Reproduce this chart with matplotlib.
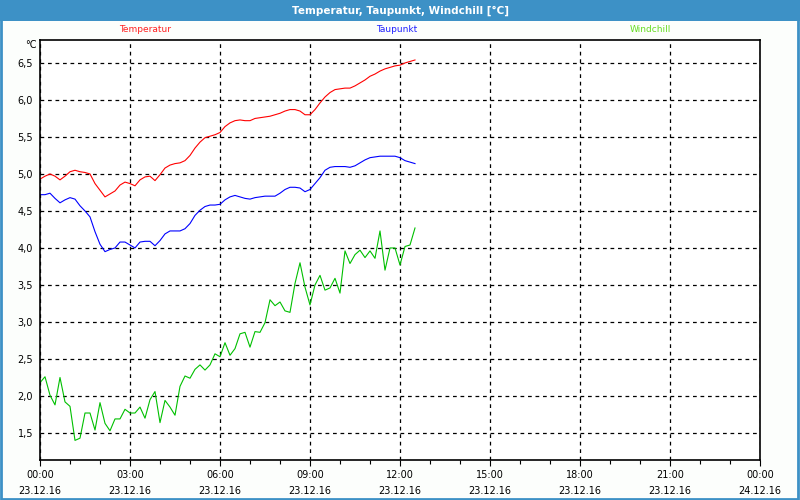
import numpy as np
import matplotlib
matplotlib.use('Agg')
import matplotlib.pyplot as plt
from matplotlib.patches import Rectangle
from matplotlib.ticker import FixedLocator, MultipleLocator

# Messwerte alle 10 Minuten ab 00:00 (Stunden)
hours = np.arange(76) / 6.0

temperatur = [4.93, 4.97, 5.00, 4.97, 4.92, 4.97, 5.03, 5.05, 5.03, 5.02,
              5.00, 4.87, 4.78, 4.69, 4.73, 4.77, 4.85, 4.89, 4.87, 4.84,
              4.92, 4.96, 4.97, 4.91, 4.99, 5.08, 5.12, 5.14, 5.15, 5.18,
              5.25, 5.35, 5.43, 5.49, 5.51, 5.53, 5.56, 5.64, 5.69, 5.72,
              5.73, 5.72, 5.72, 5.75, 5.76, 5.77, 5.78, 5.80, 5.82, 5.85,
              5.87, 5.87, 5.85, 5.80, 5.80, 5.87, 5.96, 6.04, 6.10, 6.14,
              6.15, 6.16, 6.16, 6.19, 6.23, 6.27, 6.32, 6.35, 6.39, 6.42,
              6.44, 6.46, 6.47, 6.50, 6.52, 6.54]

taupunkt = [4.72, 4.72, 4.74, 4.67, 4.61, 4.65, 4.68, 4.66, 4.57, 4.50,
            4.42, 4.22, 4.05, 3.95, 3.98, 4.00, 4.08, 4.08, 4.04, 4.00,
            4.08, 4.09, 4.09, 4.03, 4.10, 4.19, 4.23, 4.23, 4.23, 4.26,
            4.33, 4.44, 4.51, 4.56, 4.58, 4.58, 4.59, 4.65, 4.69, 4.71,
            4.69, 4.67, 4.66, 4.68, 4.69, 4.70, 4.70, 4.70, 4.74, 4.79,
            4.82, 4.82, 4.81, 4.76, 4.79, 4.87, 4.95, 5.05, 5.09, 5.10,
            5.10, 5.10, 5.09, 5.11, 5.15, 5.19, 5.22, 5.23, 5.24, 5.24,
            5.24, 5.24, 5.22, 5.18, 5.16, 5.14]

windchill = [2.18, 2.26, 2.01, 1.88, 2.25, 1.92, 1.86, 1.40, 1.43, 1.77,
             1.77, 1.54, 1.91, 1.63, 1.53, 1.69, 1.69, 1.82, 1.77, 1.77,
             1.85, 1.70, 1.95, 2.06, 1.64, 1.94, 1.85, 1.74, 2.13, 2.27,
             2.24, 2.36, 2.42, 2.35, 2.42, 2.57, 2.53, 2.72, 2.55, 2.64,
             2.84, 2.86, 2.66, 2.87, 2.86, 2.99, 3.30, 3.22, 3.27, 3.15,
             3.13, 3.52, 3.80, 3.47, 3.23, 3.50, 3.63, 3.43, 3.46, 3.59,
             3.39, 3.96, 3.79, 3.91, 3.97, 3.87, 3.96, 3.86, 4.23, 3.70,
             4.00, 4.00, 3.77, 4.02, 4.04, 4.27]

x_ticks = [0, 3, 6, 9, 12, 15, 18, 21, 24]
x_labels = ['00:00\n23.12.16', '03:00\n23.12.16', '06:00\n23.12.16',
            '09:00\n23.12.16', '12:00\n23.12.16', '15:00\n23.12.16',
            '18:00\n23.12.16', '21:00\n23.12.16', '00:00\n24.12.16']
y_ticks = [1.5, 2.0, 2.5, 3.0, 3.5, 4.0, 4.5, 5.0, 5.5, 6.0, 6.5]

BLAU = '#3d91c6'

fig = plt.figure(figsize=(8, 5), dpi=100)
fig.patch.set_facecolor('#fcfefc')

# Titelleiste und Rahmen
fig.patches.append(Rectangle((0, 0.959), 1, 0.041, transform=fig.transFigure,
                             facecolor=BLAU, edgecolor='none', zorder=0))
fig.patches.append(Rectangle((0.001, 0.002), 0.997, 0.996, transform=fig.transFigure,
                             facecolor='none', edgecolor=BLAU, lw=2, zorder=0))
fig.text(0.5, 0.979, 'Temperatur, Taupunkt, Windchill [°C]', color='white',
         fontsize=7.5, fontweight='bold', ha='center', va='center')

fig.text(145/800, 1 - 30/500, 'Temperatur', color='#ff2020', fontsize=6.5,
         ha='center', va='center')
fig.text(397/800, 1 - 30/500, 'Taupunkt', color='#2020ff', fontsize=6.5,
         ha='center', va='center')
fig.text(650/800, 1 - 30/500, 'Windchill', color='#66dd22', fontsize=6.5,
         ha='center', va='center')
fig.text(37/800, 1 - 45/500, '°C', color='black', fontsize=7,
         ha='right', va='center')

ax = fig.add_axes([0.05, 0.08, 0.9, 0.84])
ax.set_facecolor('white')

ax.plot(hours, temperatur, color='#ff0000', lw=0.8)
ax.plot(hours, taupunkt, color='#0000ff', lw=0.8)
ax.plot(hours, windchill, color='#00c000', lw=0.8)

ax.set_xlim(0, 24)
ax.set_ylim(1.135, 6.81)

ax.xaxis.set_major_locator(FixedLocator(x_ticks))
ax.set_xticklabels(x_labels)
ax.xaxis.set_minor_locator(MultipleLocator(1))
ax.yaxis.set_major_locator(FixedLocator(y_ticks))
ax.set_yticklabels([f'{v:.1f}'.replace('.', ',') for v in y_ticks])

ax.tick_params(axis='x', which='major', length=4, width=0.8, labelsize=7,
               pad=3, colors='black')
ax.tick_params(axis='x', which='minor', length=3, width=0.8)
ax.tick_params(axis='y', which='major', length=0, labelsize=7, pad=5)
for lab in ax.get_xticklabels():
    lab.set_linespacing(1.75)

ax.grid(True, which='major', color='black', lw=0.9, linestyle=(0, (3, 3)))
for s in ax.spines.values():
    s.set_linewidth(1.2)
    s.set_color('black')

fig.savefig('out.png', dpi=100, facecolor=fig.get_facecolor())
